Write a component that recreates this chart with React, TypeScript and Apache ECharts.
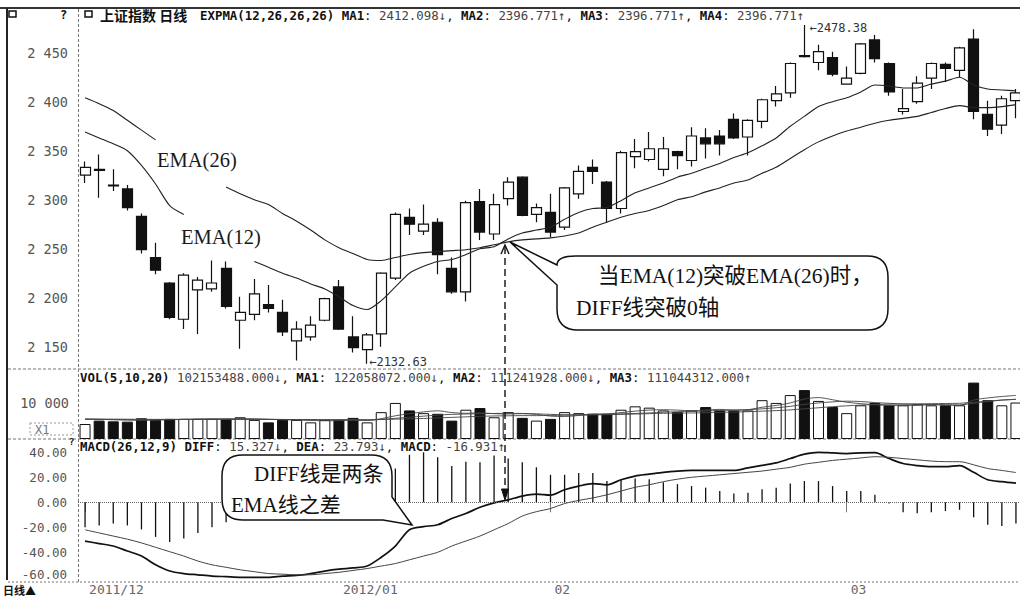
import React, { useEffect, useRef } from "react";
import * as echarts from "echarts";

// ---------- data ----------
const dates = [
  "2011-12-07","2011-12-08","2011-12-09","2011-12-12","2011-12-13","2011-12-14","2011-12-15","2011-12-16","2011-12-19","2011-12-20",
  "2011-12-21","2011-12-22","2011-12-23","2011-12-26","2011-12-27","2011-12-28","2011-12-29","2011-12-30",
  "2012-01-04","2012-01-05","2012-01-06","2012-01-09","2012-01-10","2012-01-11","2012-01-12","2012-01-13","2012-01-16","2012-01-17",
  "2012-01-18","2012-01-19","2012-01-20","2012-01-30","2012-01-31",
  "2012-02-01","2012-02-02","2012-02-03","2012-02-06","2012-02-07","2012-02-08","2012-02-09","2012-02-10","2012-02-13","2012-02-14",
  "2012-02-15","2012-02-16","2012-02-17","2012-02-20","2012-02-21","2012-02-22","2012-02-23","2012-02-24","2012-02-27","2012-02-28","2012-02-29",
  "2012-03-01","2012-03-02","2012-03-05","2012-03-06","2012-03-07","2012-03-08","2012-03-09","2012-03-12","2012-03-13","2012-03-14",
  "2012-03-15","2012-03-16","2012-03-19"
];

// [open, close, low, high]
const ohlc = [
  [2325,2333,2317,2339],[2331,2330,2302,2346],[2315,2314,2309,2331],[2311,2292,2289,2315],[2283,2249,2245,2286],
  [2241,2228,2224,2256],[2215,2180,2178,2216],[2178,2223,2168,2225],[2208,2218,2163,2221],[2209,2215,2206,2238],
  [2230,2191,2189,2237],[2177,2185,2148,2201],[2183,2204,2177,2219],[2193,2189,2185,2213],[2185,2165,2161,2198],
  [2156,2168,2136,2176],[2160,2172,2156,2181],[2177,2199,2176,2200],[2211,2168,2167,2218],[2160,2149,2144,2181],
  [2147,2162,2132.63,2164],[2163,2225,2150,2226],[2220,2285,2218,2287],[2282,2275,2264,2291],[2268,2275,2264,2295],
  [2277,2244,2224,2281],[2230,2206,2204,2241],[2206,2297,2196,2299],[2298,2267,2259,2311],[2265,2295,2259,2306],
  [2301,2318,2294,2323],[2323,2284,2283,2324],[2285,2292,2277,2296],[2287,2267,2262,2306],[2272,2312,2269,2313],
  [2306,2329,2301,2335],[2333,2329,2316,2341],[2318,2291,2277,2319],[2291,2348,2286,2350],[2344,2349,2332,2362],
  [2341,2352,2339,2369],[2331,2352,2324,2364],[2349,2345,2331,2350],[2340,2365,2334,2374],[2363,2357,2342,2373],
  [2365,2357,2345,2371],[2382,2363,2362,2388],[2364,2381,2345,2382],[2380,2402,2373,2403],[2401,2408,2395,2416],
  [2409,2439,2404,2440],[2447,2446,2445,2478.38],[2440,2451,2432,2458],[2445,2428,2426,2451],[2418,2424,2418,2436],
  [2429,2459,2428,2460],[2463,2444,2440,2468],[2439,2410,2406,2440],[2390,2393,2387,2413],[2400,2419,2398,2426],
  [2424,2439,2413,2440],[2438,2434,2420,2440],[2432,2455,2425,2456],[2464,2390,2382,2474],[2387,2372,2365,2401],
  [2376,2403,2367,2406],[2401,2409,2383,2413]
];

const ema12 = [
  2369,2363,2357,2350,2335,2316,2294,2285,null,null,
  null,null,2237,2231,2225,2220,2214,2209,2201,2192,
  2188,2197,2211,2225,2232,2237,2239,2244,2250,2252,
  2260,2266,2269,2272,2280,2287,2291,2292,2299,2307,
  2312,2317,2323,2327,2332,2337,2343,2348,2355,2363,
  2375,2385,2395,2400,2404,2410,2417,2416,2414,2414,
  2418,2421,2425,2417,2413,2412,2411
];
const ema26 = [
  2404,2398,2391,2381,2371,2361,null,null,null,null,
  2313,2306,2300,2295,2286,2278,2269,2259,2251,2245,
  2239,2238,2241,2244,2246,2247,2248,2249,2251,2254,
  2257,2259,2260,2261,2263,2266,2272,2277,2282,2286,
  2289,2294,2300,2303,2308,2312,2317,2320,2327,2333,
  2342,2351,2359,2365,2370,2374,2378,2381,2383,2385,
  2389,2393,2396,2394,2394,2395,2397
];

// volume in units of 10,000 shares
const volume = [
  4200,5150,4950,4860,5800,5350,5630,5630,5630,5630,
  5630,6090,5350,4660,5350,5350,4660,5350,5350,5920,
  4660,7520,10100,8000,7240,7060,5150,8200,8670,6090,
  7520,5920,5150,5630,7520,7240,7060,7060,8200,9150,
  8780,8000,7520,8000,8950,8000,8000,8000,10870,10100,
  12300,13700,10670,8950,7240,9440,10100,9440,9440,9720,
  9440,9440,9440,15800,10870,9440,10215
];
const volMa5 = [
  5600,5500,5400,5300,5200,5300,5400,5500,5600,5650,
  5650,5700,5650,5500,5400,5300,5200,5100,5150,5300,
  5200,5700,6500,7100,7600,7900,7400,7200,7300,7100,
  7000,7100,6900,6400,6300,6600,7000,7000,7400,7800,
  8100,8200,8100,7900,8100,8300,8100,8200,8900,9400,
  10100,11200,11600,11000,10300,9900,9600,9400,9400,9400,
  9600,9500,9400,10900,11500,11900,12206
];
const volMa10 = [
  5500,5480,5450,5420,5400,5420,5450,5480,5500,5520,
  5530,5540,5540,5520,5480,5440,5400,5380,5360,5340,
  5330,5500,5800,6100,6400,6700,6900,7000,7100,7150,
  7200,7150,7050,6900,6800,6800,6850,6950,7050,7150,
  7300,7500,7650,7750,7850,8000,8100,8200,8450,8750,
  9150,9700,10100,10400,10600,10500,10200,10000,9800,9700,
  9650,9600,9550,10000,10500,10900,11124
];
const volMa20 = [
  5600,5580,5560,5540,5520,5500,5500,5500,5500,5500,
  5500,5500,5500,5480,5460,5440,5420,5400,5400,5400,
  5380,5450,5550,5650,5750,5900,6050,6200,6350,6450,
  6500,6550,6550,6600,6650,6700,6750,6800,6900,7000,
  7100,7200,7250,7300,7350,7450,7550,7650,7800,7950,
  8150,8450,8750,9050,9300,9500,9650,9750,9800,9850,
  9900,9950,10000,10300,10600,10900,11104
];

const diff = [
  -31,-33,-35,-39,-43,-50,-55,-57,-58,-59,
  -59.5,-60,-60,-60,-59,-58.5,-57,-55,-53.5,-52.5,
  -51,-44,-35,-22,-19.5,-18,-13,-9,-4,-0.5,
  2,5,6.5,5.7,10,13,15,14,18,21,
  22.5,24,25,25.5,25.5,25.5,25.5,27.5,29.5,31.5,
  35,38.5,40,39.5,39,39.5,39.7,35,31,29.4,
  28.5,28.5,29.4,24,18,16.5,15.3
];
const dea = [
  -22,-24.5,-27,-29.5,-32.5,-36,-39.5,-43,-47,-50,
  -52,-54,-55.5,-57,-57.5,-58,-58,-57,-56,-54.5,
  -53,-51,-49,-46,-43,-40,-35,-31,-27,-22,
  -17,-11,-7.5,-5,-1,1.5,3.5,6,9,12,
  14,16.5,18.5,20,21,22,23,24,25,26.5,
  28,30.5,32,33.5,34.5,35.5,36.5,36,35,34,
  33,32.5,32.5,30,27,25.5,23.8
];
const macd = [
  -20,-18.5,-17,-18.5,-21.7,-27.7,-31.8,-29,-24.5,-20,
  -16,-13,-11,-8,-5,-3,1,2,3,4,
  5,15,27,38,40,36,29,32.5,32,37.5,
  35,32,28,22,22,23.5,23.5,17,18.5,19,
  18.5,16,14.5,13,11.7,9,7,7.6,10.4,11.7,
  15,17,17,13,9,9,6,-1,-8,-8.7,
  -8,-7,-6,-12,-18,-19,-16.9
];

const priceTickValues = [2150, 2200, 2250, 2300, 2350, 2400, 2450];
const priceTickLabels = ["2 150", "2 200", "2 250", "2 300", "2 350", "2 400", "2 450"];
const volTickValues = [10000];
const volTickLabels = ["10 000"];
const macdTickValues = [-60, -40, -20, 0, 20, 40];
const macdTickLabels = ["-60.00", "-40.00", "-20.00", "0.00", "20.00", "40.00"];
const monthTickIndex = [0, 18, 33, 54];
const monthTickLabels = ["2011/12", "2012/01", "02", "03"];

const highIdx = 51;
const lowIdx = 20;

// ---------- decorations ----------
const CALLOUT_1 =
  "M510 242 L557 265 Q557 256 576 256 L867 256 Q888 256 888 277 L888 309 Q888 330 867 330 L578 330 Q557 330 557 309 L557 285 Z";
const CALLOUT_2 =
  "M243 455 L371 455 Q392 455 392 476 L392 497 L412 525 L383 520 L243 520 Q222 520 222 499 L222 476 Q222 455 243 455 Z";
echarts.graphic.registerShape("callout1", echarts.graphic.extendPath(CALLOUT_1, {}));
echarts.graphic.registerShape("callout2", echarts.graphic.extendPath(CALLOUT_2, {}));

const MONO = "'DejaVu Sans Mono', monospace";
const SERIF = "'Liberation Serif', 'Noto Sans CJK SC', serif";
const CJK = "'Noto Sans CJK SC', sans-serif";

function txt(x: number, y: number, text: string, extra: any = {}, z = 110) {
  return {
    type: "text",
    x,
    y,
    z,
    silent: true,
    style: {
      text,
      fill: "#111",
      fontSize: 12,
      fontFamily: MONO,
      textVerticalAlign: "middle",
      verticalAlign: "middle",
      ...extra,
    },
  };
}
function hline(x1: number, x2: number, y: number, dash: number[] | null, color = "#777", w = 1) {
  return {
    type: "line",
    z: 1,
    silent: true,
    shape: { x1, y1: y, x2, y2: y },
    style: { stroke: color, lineWidth: w, lineDash: dash || undefined },
  };
}

const headerRich = {
  b: { fontFamily: MONO, fontSize: 12.4, fontWeight: "bold", fill: "#111" },
  n: { fontFamily: MONO, fontSize: 12.4, fill: "#444" },
};

export default function App() {
  const ref = useRef<HTMLDivElement>(null);

  useEffect(() => {
    if (!ref.current) return;
    const chart = echarts.init(ref.current, undefined, { renderer: "svg" });

    const volItems = volume.map((v, i) => {
      const up = ohlc[i][1] >= ohlc[i][0];
      return {
        value: v,
        itemStyle: { color: up ? "#fff" : "#111", borderColor: "#111", borderWidth: 1 },
      };
    });

    const axisHidden = {
      axisLine: { show: false },
      axisTick: { show: false },
      splitLine: { show: false },
    };

    const option: any = {
      animation: false,
      backgroundColor: "#fff",
      grid: [
        { left: 78, width: 945, top: 3.7, height: 392, containLabel: false, outerBoundsMode: "none" },
        { left: 78, width: 945, top: 371, height: 68, containLabel: false, outerBoundsMode: "none" },
        { left: 78, width: 945, top: 427.3, height: 175, containLabel: false, outerBoundsMode: "none" },
      ],
      xAxis: [
        { type: "category", gridIndex: 0, data: dates, boundaryGap: true, ...axisHidden, axisLabel: { show: false } },
        { type: "category", gridIndex: 1, data: dates, boundaryGap: true, ...axisHidden, axisLabel: { show: false } },
        {
          type: "category",
          gridIndex: 2,
          data: dates,
          boundaryGap: true,
          offset: -20.3,
          axisLine: { show: false },
          splitLine: { show: false },
          axisTick: {
            show: true,
            alignWithLabel: true,
            length: 10,
            interval: (idx: number) => monthTickIndex.indexOf(idx) >= 0,
            lineStyle: { color: "#777", width: 1 },
          },
          axisLabel: {
            show: true,
            interval: (idx: number) => monthTickIndex.indexOf(idx) >= 0,
            formatter: (_v: string, idx: number) => {
              const k = monthTickIndex.indexOf(idx);
              return k >= 0 ? monthTickLabels[k] : "";
            },
            align: "left",
            padding: [0, 0, 0, 4],
            margin: 1,
            lineHeight: 13,
            color: "#666",
            fontFamily: MONO,
            fontSize: 13,
          },
        },
      ],
      yAxis: [
        {
          type: "value",
          gridIndex: 0,
          min: 2100,
          max: 2500,
          interval: 50,
          ...axisHidden,
          axisLabel: {
            margin: 10,
            color: "#555",
            fontFamily: MONO,
            fontSize: 13.5,
            formatter: (v: number) => {
              const k = priceTickValues.indexOf(Math.round(v));
              return k >= 0 ? priceTickLabels[k] : "";
            },
          },
        },
        {
          type: "value",
          gridIndex: 1,
          min: 0,
          max: 19048,
          interval: 10000,
          ...axisHidden,
          axisLabel: {
            margin: 9,
            color: "#555",
            fontFamily: MONO,
            fontSize: 13.5,
            formatter: (v: number) => {
              const k = volTickValues.indexOf(Math.round(v));
              return k >= 0 ? volTickLabels[k] : "";
            },
          },
        },
        {
          type: "value",
          gridIndex: 2,
          min: -80,
          max: 60,
          interval: 20,
          ...axisHidden,
          axisLabel: {
            margin: 11,
            color: "#555",
            fontFamily: MONO,
            fontSize: 12.5,
            lineHeight: 11,
            rich: {
              up: { fontFamily: MONO, fontSize: 12.5, color: "#555", lineHeight: 11, padding: [0, 0, 6, 0] },
            },
            formatter: (v: number) => {
              const k = macdTickValues.indexOf(Math.round(v));
              if (k < 0) return "";
              return k === 0 ? "{up|" + macdTickLabels[k] + "}" : macdTickLabels[k];
            },
          },
        },
      ],
      series: [
        {
          type: "candlestick",
          xAxisIndex: 0,
          yAxisIndex: 0,
          data: ohlc,
          barWidth: 10.5,
          silent: true,
          itemStyle: {
            color: "#fff",
            color0: "#111",
            borderColor: "#111",
            borderColor0: "#111",
            borderWidth: 1.2,
          },
          markPoint: {
            silent: true,
            symbol: "circle",
            symbolSize: 0.1,
            itemStyle: { color: "rgba(0,0,0,0)" },
            label: {
              show: true,
              position: "right",
              distance: 2,
              color: "#333",
              fontFamily: MONO,
              fontSize: 12,
              formatter: (p: any) => "←" + Number(p.value).toFixed(2),
            },
            data: [
              { coord: [dates[highIdx], ohlc[highIdx][3]], value: ohlc[highIdx][3], label: { offset: [3, 3] } },
              { coord: [dates[lowIdx], ohlc[lowIdx][2]], value: ohlc[lowIdx][2], label: { offset: [0, -2] } },
            ],
          },
        },
        {
          type: "line",
          xAxisIndex: 0,
          yAxisIndex: 0,
          data: ema12,
          showSymbol: false,
          connectNulls: false,
          smooth: 0.25,
          silent: true,
          lineStyle: { color: "#222", width: 1.1 },
        },
        {
          type: "line",
          xAxisIndex: 0,
          yAxisIndex: 0,
          data: ema26,
          showSymbol: false,
          connectNulls: false,
          smooth: 0.25,
          silent: true,
          lineStyle: { color: "#222", width: 1.1 },
        },
        {
          type: "bar",
          xAxisIndex: 1,
          yAxisIndex: 1,
          data: volItems,
          barWidth: 11,
          silent: true,
        },
        ...[volMa5, volMa10, volMa20].map((d) => ({
          type: "line",
          xAxisIndex: 1,
          yAxisIndex: 1,
          data: d,
          showSymbol: false,
          smooth: 0.3,
          silent: true,
          lineStyle: { color: "#444", width: 0.9 },
        })),
        {
          type: "bar",
          xAxisIndex: 2,
          yAxisIndex: 2,
          data: macd,
          barWidth: 1.3,
          silent: true,
          itemStyle: { color: "#111" },
          markLine: {
            silent: true,
            symbol: ["none", "none"],
            label: { show: false },
            lineStyle: { type: "dotted", color: "#666", width: 1 },
            data: [{ yAxis: 0 }],
          },
        },
        {
          type: "line",
          xAxisIndex: 2,
          yAxisIndex: 2,
          data: diff,
          showSymbol: false,
          smooth: 0.3,
          silent: true,
          lineStyle: { color: "#111", width: 1.7 },
        },
        {
          type: "line",
          xAxisIndex: 2,
          yAxisIndex: 2,
          data: dea,
          showSymbol: false,
          smooth: 0.3,
          silent: true,
          lineStyle: { color: "#444", width: 1 },
        },
      ],
      graphic: [
        // frame
        hline(0, 1020, 8, null, "#333", 2),
        { type: "line", z: 1, silent: true, shape: { x1: 7, y1: 8, x2: 7, y2: 580 }, style: { stroke: "#222", lineWidth: 2 } },
        hline(8, 1020, 369, [3, 2]),
        hline(8, 1020, 439, [3, 2]),
        hline(8, 1020, 582, [2, 2]),
        { type: "line", z: 1, silent: true, shape: { x1: 78.5, y1: 9, x2: 78.5, y2: 582 }, style: { stroke: "#777", lineWidth: 1, lineDash: [3, 2] } },
        // icons
        { type: "rect", z: 110, silent: true, shape: { x: 9, y: 11, width: 7, height: 6 }, style: { fill: "none", stroke: "#111", lineWidth: 1.5 } },
        { type: "rect", z: 110, silent: true, shape: { x: 85, y: 11, width: 7, height: 6 }, style: { fill: "none", stroke: "#111", lineWidth: 1.5 } },
        txt(60, 15, "?", { fontWeight: "bold", fontSize: 12 }),
        txt(69, 442, "?", { fontWeight: "bold", fontSize: 9 }),
        // headers
        txt(100, 15, "上证指数 日线", { fontFamily: CJK, fontSize: 14, fontWeight: "bold" }),
        txt(200, 15,
          "{b|EXPMA(12,26,26,26)} {b|MA1}: {n|2412.098↓}, {b|MA2}: {n|2396.771↑}, {b|MA3}: {n|2396.771↑}, {b|MA4}: {n|2396.771↑}",
          { fontSize: 12.4, rich: headerRich }),
        txt(80, 377,
          "{b|VOL(5,10,20)} {n|102153488.000↓}, {b|MA1}: {n|122058072.000↓}, {b|MA2}: {n|111241928.000↓}, {b|MA3}: {n|111044312.000↑}",
          { fontSize: 12.4, rich: headerRich }),
        txt(80, 446,
          "{b|MACD(26,12,9)} {b|DIFF}: {n|15.327↓}, {b|DEA}: {n|23.793↓}, {b|MACD}: {n|-16.931↑}",
          { fontSize: 12.4, rich: headerRich }),
        // X1 box
        { type: "rect", z: 110, silent: true, shape: { x: 30, y: 423, width: 43, height: 12 }, style: { fill: "none", stroke: "#999", lineWidth: 1, lineDash: [2, 2] } },
        txt(35, 429.5, "X1", { fill: "#777", fontSize: 12 }),
        // bottom-left
        txt(3, 589.5, "日线▲", { fontFamily: CJK, fontSize: 11, lineHeight: 11, fontWeight: "bold" }),
        // EMA labels
        txt(157, 160, "EMA(26)", { fontFamily: SERIF, fontSize: 20.5, fill: "#1a1a1a" }),
        txt(181, 237, "EMA(12)", { fontFamily: SERIF, fontSize: 20.5, fill: "#1a1a1a" }),
        // dashed arrow
        { type: "line", z: 105, silent: true, shape: { x1: 505, y1: 247, x2: 505, y2: 492 }, style: { stroke: "#111", lineWidth: 1.4, lineDash: [7, 4] } },
        { type: "polyline", z: 105, silent: true, shape: { points: [[501, 254], [505, 245], [509, 254]] }, style: { stroke: "#111", lineWidth: 1.4, fill: "none" } },
        { type: "polygon", z: 105, silent: true, shape: { points: [[501.5, 489], [505, 500], [508.5, 489]] }, style: { fill: "#111", stroke: "#111", lineWidth: 1 } },
        // callouts
        { type: "callout1", x: 0, y: 0, scaleX: 1, scaleY: 1, z: 100, silent: true, style: { fill: "#fff", stroke: "#111", lineWidth: 1.5 } },
        { type: "callout2", x: 0, y: 0, scaleX: 1, scaleY: 1, z: 100, silent: true, style: { fill: "#fff", stroke: "#111", lineWidth: 1.5 } },
        txt(598, 276, "当EMA(12)突破EMA(26)时，", { fontFamily: SERIF, fontSize: 21.5 }),
        txt(576, 308, "DIFF线突破0轴", { fontFamily: SERIF, fontSize: 21.5 }),
        txt(254, 474, "DIFF线是两条", { fontFamily: SERIF, fontSize: 21 }),
        txt(231, 505, "EMA线之差", { fontFamily: SERIF, fontSize: 21 }),
      ],
    };

    chart.setOption(option);
    return () => {
      chart.dispose();
    };
  }, []);

  return (
    <div
      ref={ref}
      style={{ position: "fixed", left: 0, top: 0, width: 1020, height: 596, background: "#fff" }}
    />
  );
}
